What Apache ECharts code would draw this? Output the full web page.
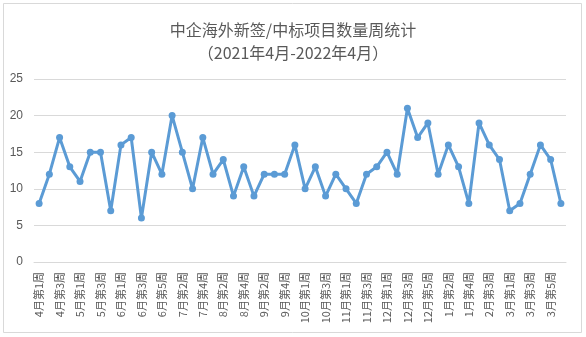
<!DOCTYPE html>
<html>
<head>
<meta charset="utf-8">
<script src="https://cdn.jsdelivr.net/npm/echarts@6/dist/echarts.min.js"></script>
<style>html,body{margin:0;padding:0;background:#fff;}#c{width:586px;height:337px;}</style>
</head>
<body>
<div id="c"></div>
<script>
var categories = ['4月第1周','4月第2周','4月第3周','4月第4周','5月第1周','5月第2周','5月第3周','5月第4周',
'6月第1周','6月第2周','6月第3周','6月第4周','6月第5周','7月第1周','7月第2周','7月第3周','7月第4周',
'8月第1周','8月第2周','8月第3周','8月第4周','9月第1周','9月第2周','9月第3周','9月第4周','9月第5周',
'10月第1周','10月第2周','10月第3周','10月第4周','11月第1周','11月第2周','11月第3周','11月第4周',
'12月第1周','12月第2周','12月第3周','12月第4周','12月第5周','1月第1周','1月第2周','1月第3周','1月第4周',
'2月第2周','2月第3周','2月第4周','3月第1周','3月第2周','3月第3周','3月第4周','3月第5周','4月第1周'];
var counts = [8,12,17,13,11,15,15,7,16,17,6,15,12,20,15,10,17,12,14,9,13,9,12,12,12,16,10,13,9,12,10,8,12,13,15,12,21,17,19,12,16,13,8,19,16,14,7,8,12,16,14,8];
var yTicks = [0,5,10,15,20,25];
var titleText = '中企海外新签/中标项目数量周统计\n（2021年4月-2022年4月）';

var chart = echarts.init(document.getElementById('c'), null, {renderer:'canvas'});
var font = '"Noto Sans CJK SC", "Microsoft YaHei", sans-serif';
chart.setOption({
  animation: false,
  backgroundColor: '#fff',
  graphic: [{
    type: 'rect', shape: {x: 3.5, y: 3.5, width: 578, height: 329},
    style: {fill: 'none', stroke: '#d9d9d9', lineWidth: 1}, silent: true, z: -1
  }],
  title: {
    text: titleText, left: 'center', top: 13,
    textStyle: {fontFamily: font, fontSize: 16, fontWeight: 'normal', color: '#595959', lineHeight: 23}
  },
  grid: {left: 34, right: 20, top: 79, bottom: 75, containLabel: false},
  xAxis: {
    type: 'category', data: categories, boundaryGap: true,
    axisLine: {show: true, lineStyle: {color: '#d9d9d9'}},
    axisTick: {show: false},
    axisLabel: {rotate: 90, interval: 1, margin: 10, color: '#595959', fontSize: 11, fontFamily: font}
  },
  yAxis: {
    type: 'value', min: yTicks[0], max: yTicks[yTicks.length-1], interval: 5,
    axisLine: {show: false}, axisTick: {show: false},
    splitLine: {lineStyle: {color: '#d9d9d9', width: 1}},
    axisLabel: {color: '#595959', fontSize: 12, margin: 11, fontFamily: '"Liberation Sans", Arial, sans-serif'}
  },
  series: [{
    type: 'line', data: counts,
    symbol: 'circle', symbolSize: 7, showAllSymbol: true,
    lineStyle: {color: '#5b9bd5', width: 3},
    itemStyle: {color: '#5b9bd5'}
  }]
});
</script>
</body>
</html>
